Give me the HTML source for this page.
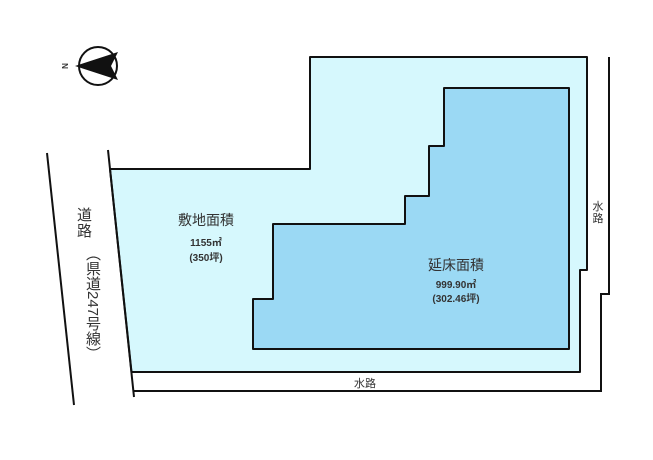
<!DOCTYPE html>
<html><head><meta charset="utf-8"><style>
html,body{margin:0;padding:0;background:#fff;width:653px;height:460px;overflow:hidden;position:relative}
svg{display:block}
text{font-family:"Liberation Sans","Noto Sans CJK JP",sans-serif;fill:#333}
.v{position:absolute;writing-mode:vertical-rl;font-family:"Liberation Sans","Noto Sans CJK JP",sans-serif;font-size:15px;line-height:18px;color:#333;letter-spacing:1px}
</style></head><body>
<svg width="653" height="460" viewBox="0 0 653 460" xmlns="http://www.w3.org/2000/svg">
<polygon points="110,169 310,169 310,57 587,57 587,270 580,270 580,372 131.5,372" fill="#d6f8fd" stroke="#111" stroke-width="2" stroke-linejoin="round"/>
<polygon points="444,88 569,88 569,349 253,349 253,299 273,299 273,224 405,224 405,196 429,196 429,146 444,146" fill="#9bd9f4" stroke="#111" stroke-width="2" stroke-linejoin="round"/>
<line x1="47" y1="153" x2="74" y2="405" stroke="#111" stroke-width="2"/>
<line x1="108" y1="150" x2="134" y2="397" stroke="#111" stroke-width="2"/>
<polyline points="133,391 601,391 601,294 609,294 609,57" fill="none" stroke="#111" stroke-width="2"/>
<circle cx="98" cy="66" r="19" fill="#fff" stroke="#111" stroke-width="2"/>
<polygon points="75,66 118,52 111,66 118,80" fill="#111"/>
<text x="65" y="69" font-size="8" font-weight="bold" transform="rotate(-90 65 66)" text-anchor="middle">N</text>
<text x="206" y="225" font-size="14" text-anchor="middle">敷地面積</text>
<text x="206" y="246" font-size="10" font-weight="bold" text-anchor="middle">1155㎡</text>
<text x="206" y="261" font-size="10" font-weight="bold" text-anchor="middle">(350坪)</text>
<text x="456" y="270" font-size="14" text-anchor="middle">延床面積</text>
<text x="456" y="288" font-size="10" font-weight="bold" text-anchor="middle">999.90㎡</text>
<text x="456" y="302" font-size="10" font-weight="bold" text-anchor="middle">(302.46坪)</text>
<text x="365" y="387" font-size="11" text-anchor="middle">水路</text>
<text x="598" y="210" font-size="11" text-anchor="middle">水</text>
<text x="598" y="222" font-size="11" text-anchor="middle">路</text>
</svg>
<div class="v" style="left:74px;top:207px">道路</div>
<div class="v" style="left:83px;top:246px;letter-spacing:0">（県道247号線）</div>
</body></html>
